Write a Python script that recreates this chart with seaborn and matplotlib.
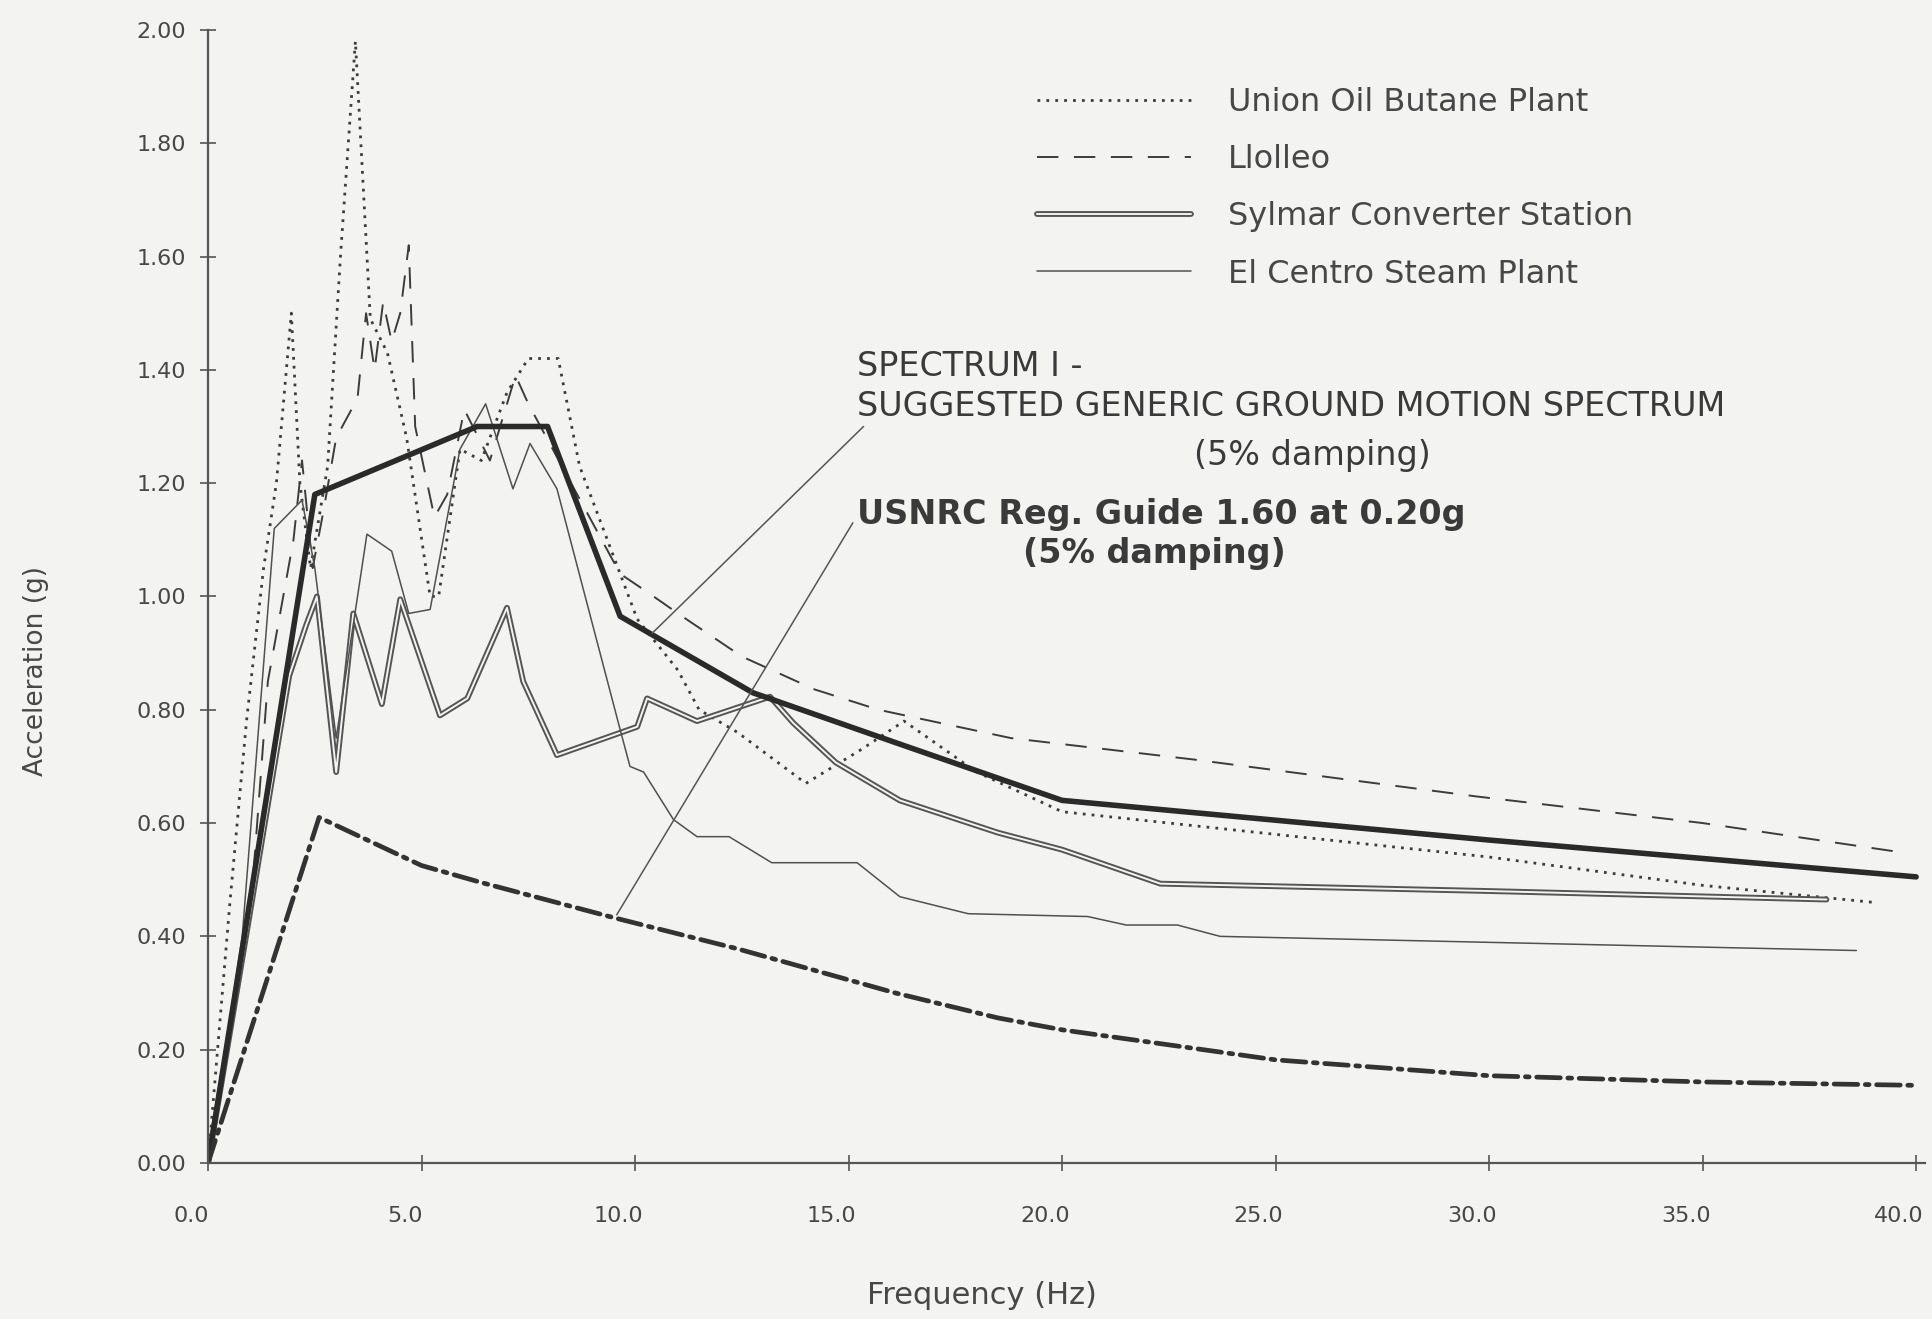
import matplotlib
matplotlib.use("Agg")
import matplotlib.pyplot as plt
import matplotlib.patheffects as pe
import matplotlib.transforms as mtransforms
import seaborn as sns

# Frequencies (Hz) and spectral accelerations (g)
union_oil_hz = [0, 0.5, 0.9, 1.3, 1.6, 1.95, 2.15, 2.4, 2.8, 3.1, 3.45, 3.8, 4.2, 4.65, 5.2, 5.4, 5.9,
                6.4, 7.0, 7.5, 8.2, 8.7, 9.3, 10.05, 11.0, 11.5, 12.4, 14.0, 15.3, 16.3, 18.0, 20.0,
                25.0, 30.0, 35.0, 39.0]
union_oil_g = [0, 0.45, 0.78, 1.05, 1.20, 1.50, 1.20, 1.05, 1.23, 1.60, 1.98, 1.49, 1.43, 1.28, 1.00,
               1.00, 1.26, 1.24, 1.36, 1.42, 1.42, 1.23, 1.11, 0.96, 0.87, 0.80, 0.76, 0.67, 0.73, 0.78,
               0.69, 0.62, 0.58, 0.54, 0.49, 0.46]

llolleo_hz = [0, 1.0, 1.4, 2.0, 2.2, 2.45, 2.7, 3.0, 3.5, 3.7, 3.9, 4.1, 4.3, 4.5, 4.7, 4.85, 5.3,
              5.6, 6.0, 6.6, 7.2, 7.5, 8.5, 9.65, 10.3, 11.1, 12.5, 14.2, 15.7, 18.8, 23.1, 29.7,
              35.0, 39.5]
llolleo_g = [0, 0.45, 0.85, 1.10, 1.24, 1.05, 1.15, 1.28, 1.35, 1.50, 1.40, 1.52, 1.45, 1.50, 1.62,
             1.30, 1.14, 1.18, 1.33, 1.24, 1.39, 1.34, 1.20, 1.04, 1.007, 0.965, 0.894, 0.836, 0.80,
             0.75, 0.712, 0.647, 0.60, 0.55]

sylmar_hz = [0, 1.0, 1.9, 2.3, 2.55, 3.0, 3.4, 4.07, 4.5, 5.43, 6.07, 7.0, 7.38, 8.17, 10.05, 10.28,
             11.45, 13.16, 13.7, 14.7, 16.2, 18.5, 20.0, 22.3, 30.0, 37.9]
sylmar_g = [0, 0.45, 0.86, 0.95, 1.00, 0.69, 0.97, 0.81, 0.995, 0.79, 0.82, 0.98, 0.85, 0.72, 0.77,
            0.82, 0.78, 0.823, 0.777, 0.707, 0.64, 0.583, 0.553, 0.493, 0.48, 0.465]

el_centro_hz = [0, 0.8, 1.55, 2.2, 2.5, 3.0, 3.72, 4.3, 4.7, 5.2, 5.9, 6.5, 7.14, 7.54, 8.17, 9.65,
                9.88, 10.2, 10.9, 11.45, 12.2, 13.2, 15.2, 16.2, 17.8, 20.6, 21.5, 22.7, 23.7, 38.6]
el_centro_g = [0, 0.40, 1.12, 1.17, 1.05, 0.75, 1.11, 1.08, 0.97, 0.977, 1.26, 1.34, 1.19, 1.27,
               1.19, 0.765, 0.70, 0.69, 0.606, 0.576, 0.576, 0.53, 0.53, 0.47, 0.44, 0.435, 0.42,
               0.42, 0.40, 0.375]

spectrum1_hz = [0, 2.5, 6.3, 7.95, 9.65, 12.76, 16.1, 20.0, 30.0, 40.0]
spectrum1_g = [0, 1.18, 1.30, 1.30, 0.965, 0.83, 0.742, 0.64, 0.57, 0.505]

rg160_hz = [0, 2.6, 5.0, 6.4, 9.5, 12.4, 16.1, 18.5, 20.0, 25.0, 30.0, 35.0, 40.0]
rg160_g = [0, 0.61, 0.525, 0.495, 0.433, 0.378, 0.30, 0.256, 0.235, 0.182, 0.154, 0.143, 0.137]

x_ticks = [0, 5, 10, 15, 20, 25, 30, 35, 40]
y_ticks = [0.0, 0.2, 0.4, 0.6, 0.8, 1.0, 1.2, 1.4, 1.6, 1.8, 2.0]

INK = "#3c3c3c"
TXT = "#474747"
BG = "#f3f3f1"

sns.set_theme(style="ticks")
plt.rcParams["font.family"] = ["DejaVu Sans"]

fig = plt.figure(figsize=(19.32, 13.19), dpi=100, facecolor=BG)
ax = fig.add_axes([0.1077, 0.1183, 0.8885, 0.859])
ax.set_facecolor(BG)

sns.lineplot(x=union_oil_hz, y=union_oil_g, ax=ax, estimator=None, sort=False,
             color=INK, linewidth=2.0, linestyle=(0, (1, 2.2)), label="Union Oil Butane Plant")
sns.lineplot(x=llolleo_hz, y=llolleo_g, ax=ax, estimator=None, sort=False,
             color=INK, linewidth=1.4, linestyle=(0, (11, 8)), label="Llolleo")
sns.lineplot(x=sylmar_hz, y=sylmar_g, ax=ax, estimator=None, sort=False,
             color=BG, linewidth=1.4, label="Sylmar Converter Station",
             path_effects=[pe.Stroke(linewidth=4.2, foreground="#555555"), pe.Normal()])
sns.lineplot(x=el_centro_hz, y=el_centro_g, ax=ax, estimator=None, sort=False,
             color="#505050", linewidth=1.1, label="El Centro Steam Plant")
sns.lineplot(x=spectrum1_hz, y=spectrum1_g, ax=ax, estimator=None, sort=False,
             color="#2a2a2a", linewidth=4.0, label="_spectrum1")
sns.lineplot(x=rg160_hz, y=rg160_g, ax=ax, estimator=None, sort=False,
             color="#333333", linewidth=3.4, linestyle=(0, (5, 1.6, 0.8, 1.6)),
             dash_capstyle="round", label="_rg160")

# leader lines from the notes to the curves
ax.plot([15.35, 10.4], [1.30, 0.935], color="#555555", linewidth=1.1)
ax.plot([15.1, 9.57], [1.13, 0.438], color="#555555", linewidth=1.1)

note_kw = dict(color="#3a3a3a", fontsize=24, va="center")
ax.text(15.2, 1.406, "SPECTRUM I -", ha="left", **note_kw)
ax.text(15.2, 1.336, "SUGGESTED GENERIC GROUND MOTION SPECTRUM", ha="left", **note_kw)
ax.text(25.85, 1.249, "(5% damping)", ha="center", **note_kw)
ax.text(15.2, 1.145, "USNRC Reg. Guide 1.60 at 0.20g", ha="left", fontweight="bold",
        color="#3a3a3a", fontsize=24, va="center")
ax.text(22.15, 1.076, "(5% damping)", ha="center", fontweight="bold",
        color="#3a3a3a", fontsize=24, va="center")

handles, labels = ax.get_legend_handles_labels()
keep = [(h, l) for h, l in zip(handles, labels) if not l.startswith("_")]
ax.legend([h for h, _ in keep], [l for _, l in keep], loc="upper left",
          bbox_to_anchor=(18.75, 1.95), bbox_transform=ax.transData, frameon=False,
          fontsize=23, handlelength=4.8, handletextpad=1.15, labelspacing=0.82,
          labelcolor=TXT)

ax.set_xlim(0, 40.2)
ax.set_ylim(0, 2.0)
ax.set_xticks(x_ticks)
ax.set_xticklabels([f"{v:.1f}" for v in x_ticks])
ax.set_yticks(y_ticks)
ax.set_yticklabels([f"{v:.2f}" for v in y_ticks])
ax.tick_params(direction="inout", length=12, width=1.2, colors="#555555",
               labelsize=16, labelcolor=TXT)
ax.tick_params(axis="x", pad=25)
ax.tick_params(axis="y", pad=10)

# the scanned labels sit a little left of their ticks
shift = mtransforms.ScaledTranslation(-0.17, 0, fig.dpi_scale_trans)
for lab in ax.get_xticklabels():
    lab.set_transform(lab.get_transform() + shift)

ax.set_xlabel("Frequency (Hz)", fontsize=22, color=TXT)
ax.set_ylabel("Acceleration (g)", fontsize=19, color=TXT)
ax.xaxis.set_label_coords(0.451, -0.104)
ax.yaxis.set_label_coords(-0.0926, 0.434)

sns.despine(ax=ax)
for side in ("left", "bottom"):
    ax.spines[side].set_color("#555555")
    ax.spines[side].set_linewidth(1.6)

fig.savefig("out.png", dpi=100, facecolor=BG)
plt.close(fig)
